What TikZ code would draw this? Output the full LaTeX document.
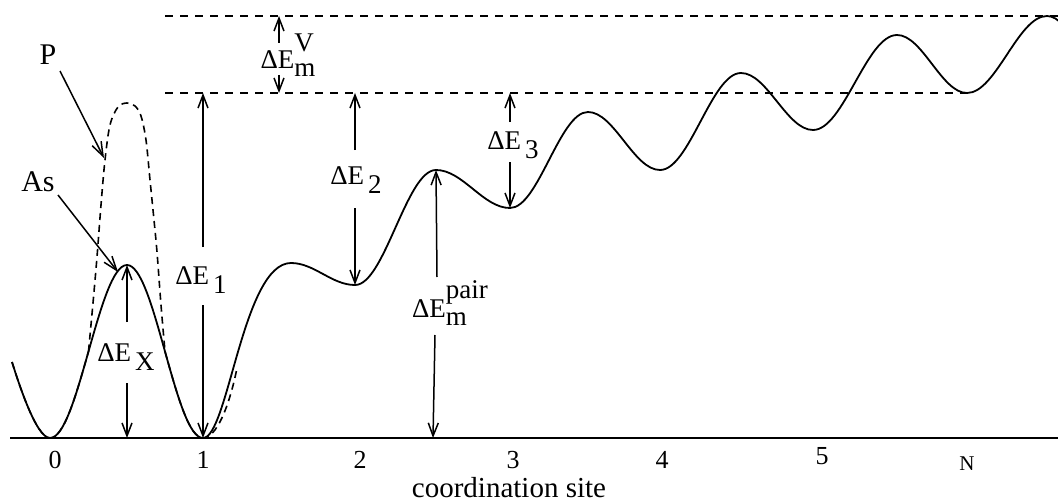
\documentclass[tikz,border=0pt]{standalone}
\usepackage{fontspec}
\setmainfont{Liberation Serif}
\usetikzlibrary{arrows.meta,calc}
\newcommand\dEsub[1]{ΔE\hspace{4pt}\raisebox{-0.32em}{#1}}
\newcommand\dEmv{ΔE\raisebox{0.62em}{\makebox[0pt][l]{V}}\raisebox{-0.3em}{m}}
\newcommand\dEmpair{ΔE\raisebox{-0.3em}{\makebox[0pt][l]{m}}\raisebox{0.72em}{pair}}
\begin{document}
\begin{tikzpicture}[x=1pt,y=-1pt,
  curve/.style={line width=1.8pt},
  pcurve/.style={line width=1.6pt,dash pattern=on 7pt off 5pt},
  guide/.style={line width=1.6pt,dash pattern=on 8pt off 7pt},
  dimarrow/.style={line width=1.5pt,-{Straight Barb[length=13pt,width=10pt,line width=1.5pt]}},
  ptr/.style={line width=1.5pt,-{Straight Barb[length=14pt,width=10pt,line width=1.5pt]}},
  lab/.style={font=\fontsize{27}{30}\selectfont,inner sep=0pt},
  ticklab/.style={font=\fontsize{26}{30}\selectfont,inner sep=0pt,text height=0.68em,text depth=0pt}]
\useasboundingbox (0,0) rectangle (1058,503);
% extrema of the energy profile
\coordinate (m0) at (50,438);
\coordinate (bx) at (127,265);
\coordinate (m1) at (203,438);
\coordinate (b1) at (291,263);
\coordinate (m2) at (355,285);
\coordinate (b2) at (436,170);
\coordinate (m3) at (510,208);
\coordinate (b3) at (588,112);
\coordinate (m4) at (660,170);
\coordinate (b4) at (741,73);
\coordinate (m5) at (813,130);
\coordinate (b5) at (897,35);
\coordinate (mN) at (967,93);
\coordinate (bN) at (1047,16);
\coordinate (mX) at (1110,75);
% guide lines
\coordinate (gtl) at (165,16);
\coordinate (gtr) at (1058,16);
\coordinate (gml) at (165,93);
\coordinate (gmr) at (968,93);
\draw[guide] (gtl) -- (gtr);
\draw[guide] (gml) -- (gmr);
% baseline
\coordinate (axl) at (10,438);
\coordinate (axr) at (1058,438);
\draw[line width=2pt] (axl) -- (axr);
% solid As profile
\begin{scope}
\clip (0,0) rectangle (1058,503);
\draw[curve] (12,362) .. controls (18,381) and (36,438) .. (m0)
  cos ($(m0)!.5!(bx)$) sin (bx) cos ($(bx)!.5!(m1)$) sin (m1)
  .. controls (228,438) and (243,263) .. (b1)
  cos ($(b1)!.5!(m2)$) sin (m2) cos ($(m2)!.5!(b2)$) sin (b2)
  cos ($(b2)!.5!(m3)$) sin (m3) cos ($(m3)!.5!(b3)$) sin (b3)
  cos ($(b3)!.5!(m4)$) sin (m4) cos ($(m4)!.5!(b4)$) sin (b4)
  cos ($(b4)!.5!(m5)$) sin (m5) cos ($(m5)!.5!(b5)$) sin (b5)
  cos ($(b5)!.5!(mN)$) sin (mN) cos ($(mN)!.5!(bN)$) sin (bN)
  cos ($(bN)!.5!(mX)$);
\end{scope}
% dashed P profile
\draw[pcurve] (12,362) .. controls (18,381) and (36,438) .. (m0) cos (88.5,351.5);
\draw[pcurve] plot[smooth,tension=0.55] coordinates {(88.5,351.5) (93,303) (97,257) (101,205) (105,160) (110,125) (118,107) (127,103) (135,106) (141,116) (146,140) (150,180) (154,220) (157,252) (161,305) (165,351.5)};
\draw[pcurve] (165,351.5) sin (m1) .. controls (216,438) and (229,408) .. (237,368);
% pointer labels
\node[lab,font=\fontsize{30}{34}\selectfont] (P) at (48,55) {P};
\node[lab,font=\fontsize{30}{34}\selectfont] (As) at (38,182) {As};
\coordinate (Ptip) at (104,158);
\coordinate (Astip) at (118,272);
\coordinate (Ptail) at (60,71);
\coordinate (Astail) at (58,195);
\draw[ptr] (Ptail) -- (Ptip);
\draw[ptr] (Astail) -- (Astip);
% Delta E_X
\node[lab] (dX) at (126,357) {\dEsub{X}};
\coordinate (dXu) at (127,322);
\coordinate (dXd) at (127,383);
\coordinate (dXb) at (127,438);
\draw[dimarrow] (dXu) -- (bx);
\draw[dimarrow] (dXd) -- (dXb);
% Delta E_1
\node[lab] (d1) at (201,280) {\dEsub{1}};
\coordinate (d1u) at (203,247);
\coordinate (d1t) at (203,93);
\coordinate (d1d) at (203,305);
\draw[dimarrow] (d1u) -- (d1t);
\draw[dimarrow] (d1d) -- (m1);
% Delta E_2
\node[lab] (d2) at (356,180) {\dEsub{2}};
\coordinate (d2u) at (355,150);
\coordinate (d2t) at (355,93);
\coordinate (d2d) at (355,208);
\draw[dimarrow] (d2u) -- (d2t);
\draw[dimarrow] (d2d) -- (m2);
% Delta E_3
\node[lab] (d3) at (513,145) {\dEsub{3}};
\coordinate (d3u) at (510,122);
\coordinate (d3t) at (510,93);
\coordinate (d3d) at (510,162);
\draw[dimarrow] (d3u) -- (d3t);
\draw[dimarrow] (d3d) -- (m3);
% Delta E_m^pair
\node[lab] (dp) at (450,303) {\dEmpair};
\coordinate (dpu) at (437,277);
\coordinate (dpd) at (435,335);
\coordinate (dpb) at (433,438);
\draw[dimarrow] (dpu) -- (b2);
\draw[dimarrow] (dpd) -- (dpb);
% Delta E_m^V
\node[lab] (dv) at (288,55) {\dEmv};
\coordinate (dvu) at (279,43);
\coordinate (dvt) at (279,16);
\coordinate (dvd) at (279,75);
\coordinate (dvb) at (279,93);
\draw[dimarrow] (dvu) -- (dvt);
\draw[dimarrow] (dvd) -- (dvb);
% axis labels
\node[ticklab] (t0) at (55,465) {0};
\node[ticklab] (t1) at (203,465) {1};
\node[ticklab] (t2) at (360,465) {2};
\node[ticklab] (t3) at (513,465) {3};
\node[ticklab] (t4) at (662,465) {4};
\node[ticklab] (t5) at (822,461) {5};
\node[ticklab,font=\fontsize{21}{24}\selectfont] (tN) at (967,467) {N};
\node[lab,font=\fontsize{29}{30}\selectfont,anchor=base,text height=0.7em,text depth=0pt] (xl) at (509,497) {coordination site};
\end{tikzpicture}
\end{document}
